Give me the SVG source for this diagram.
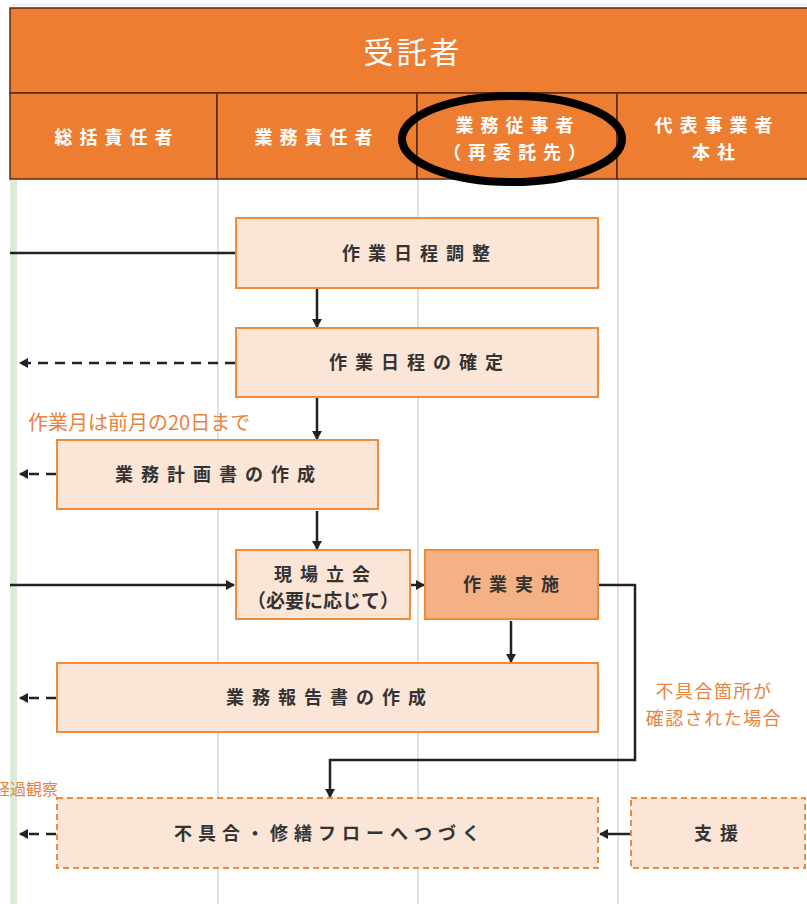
<svg xmlns="http://www.w3.org/2000/svg" width="807" height="904" viewBox="0 0 807 904">
<defs>
<style>
.hdr{fill:#ed7d31;stroke:#5a2a10;stroke-width:1.5}
.ht{font-family:"Noto Sans CJK JP","Noto Sans",sans-serif;fill:#fff;font-weight:bold;font-size:18px;letter-spacing:7px;text-anchor:middle}
.lane{stroke:#d9d9d9;stroke-width:1.5}
.box{fill:#fbe5d6;stroke:#f08a3c;stroke-width:2}
.boxd{fill:#f4b183;stroke:#f08a3c;stroke-width:2}
.boxdash{fill:#fbe5d6;stroke:#f08a3c;stroke-width:2;stroke-dasharray:6 4}
.nt{font-family:"Noto Sans CJK JP","Noto Sans",sans-serif;fill:#333;font-weight:bold;font-size:18px;letter-spacing:8px;text-anchor:middle}
.ot{font-family:"Noto Sans CJK JP","Noto Sans",sans-serif;fill:#e8823f;font-size:20px}
.ln{stroke:#222;stroke-width:2.5;fill:none}
.dl{stroke:#222;stroke-width:2.5;fill:none;stroke-dasharray:10 7}
</style>
<marker id="ah" markerWidth="10" markerHeight="10" refX="8" refY="5" orient="auto" markerUnits="userSpaceOnUse">
<path d="M0,0 L9,5 L0,10 Z" fill="#222"/>
</marker>
</defs>
<rect x="0" y="0" width="807" height="904" fill="#fff"/>
<line x1="10" y1="5" x2="807" y2="5" stroke="#dde" stroke-width="1"/>
<rect x="10" y="180" width="7" height="724" fill="#dcebd5"/>
<g id="lanes">
<line class="lane" x1="218" y1="180" x2="218" y2="904"/>
<line class="lane" x1="418" y1="180" x2="418" y2="904"/>
<line class="lane" x1="618" y1="180" x2="618" y2="904"/>
</g>
<g id="header">
<rect class="hdr" x="10" y="8" width="800" height="85"/>
<text x="413" y="63" font-family="Noto Sans CJK JP, sans-serif" font-size="30" fill="#fff" text-anchor="middle" letter-spacing="3">受託者</text>
<rect class="hdr" x="10" y="93" width="207" height="86"/>
<rect class="hdr" x="217" y="93" width="200" height="86"/>
<rect class="hdr" x="417" y="93" width="200" height="86"/>
<rect class="hdr" x="617" y="93" width="193" height="86"/>
<text class="ht" x="117" y="144">総括責任者</text>
<text class="ht" x="317" y="144">業務責任者</text>
<text class="ht" x="518" y="132">業務従事者</text>
<text class="ht" x="518" y="159">（再委託先）</text>
<text class="ht" x="717" y="132">代表事業者</text>
<text class="ht" x="717" y="159">本社</text>
<ellipse cx="512" cy="139" rx="110" ry="43" fill="none" stroke="#000" stroke-width="8"/>
</g>
<g id="connectors">
<line class="ln" x1="10" y1="253" x2="236" y2="253"/>
<line class="ln" x1="317" y1="289" x2="317" y2="327" marker-end="url(#ah)"/>
<line class="dl" x1="235" y1="363" x2="20" y2="363" marker-end="url(#ah)"/>
<line class="ln" x1="317" y1="398" x2="317" y2="439" marker-end="url(#ah)"/>
<line class="dl" x1="56" y1="474" x2="20" y2="474" marker-end="url(#ah)"/>
<line class="ln" x1="317" y1="511" x2="317" y2="549" marker-end="url(#ah)"/>
<line class="ln" x1="10" y1="585" x2="234" y2="585" marker-end="url(#ah)"/>
<line class="ln" x1="411" y1="585" x2="424" y2="585" marker-end="url(#ah)"/>
<line class="ln" x1="511" y1="621" x2="511" y2="662" marker-end="url(#ah)"/>
<line class="dl" x1="56" y1="698" x2="20" y2="698" marker-end="url(#ah)"/>
<polyline class="ln" points="599,585 635,585 635,760 330,760 330,797" marker-end="url(#ah)"/>
<line class="dl" x1="56" y1="834" x2="20" y2="834" marker-end="url(#ah)"/>
<line class="ln" x1="630" y1="834" x2="600" y2="834" marker-end="url(#ah)"/>
</g>
<g id="n1"><rect class="box" x="236" y="218" width="362" height="70"/><text class="nt" x="420" y="260">作業日程調整</text></g>
<g id="n2"><rect class="box" x="236" y="328" width="362" height="69"/><text class="nt" x="420" y="369">作業日程の確定</text></g>
<g id="n3"><rect class="box" x="57" y="440" width="321" height="69"/><text class="nt" x="219" y="481">業務計画書の作成</text></g>
<g id="n4"><rect class="box" x="236" y="550" width="174" height="69"/><text class="nt" x="326" y="581">現場立会</text><text class="nt" x="323" y="608" style="letter-spacing:0;font-size:19px">（必要に応じて）</text></g>
<g id="n5"><rect class="boxd" x="425" y="550" width="173" height="69"/><text class="nt" x="515" y="591">作業実施</text></g>
<g id="n6"><rect class="box" x="57" y="663" width="541" height="69"/><text class="nt" x="330" y="704">業務報告書の作成</text></g>
<g id="n7"><rect class="boxdash" x="57" y="798" width="541" height="70"/><text class="nt" x="330" y="840" style="letter-spacing:6px">不具合・修繕フローへつづく</text></g>
<g id="n8"><rect class="boxdash" x="631" y="798" width="174" height="70"/><text class="nt" x="720" y="840">支援</text></g>
<g id="labels">
<text class="ot" x="28" y="430">作業月は前月の20日まで</text>
<text class="ot" x="714" y="698" text-anchor="middle" style="font-size:18px;letter-spacing:1.5px">不具合箇所が</text>
<text class="ot" x="714" y="725" text-anchor="middle" style="font-size:18px;letter-spacing:1.5px">確認された場合</text>
<text class="ot" x="-6" y="795" style="font-size:16px">経過観察</text>
</g>
</svg>
